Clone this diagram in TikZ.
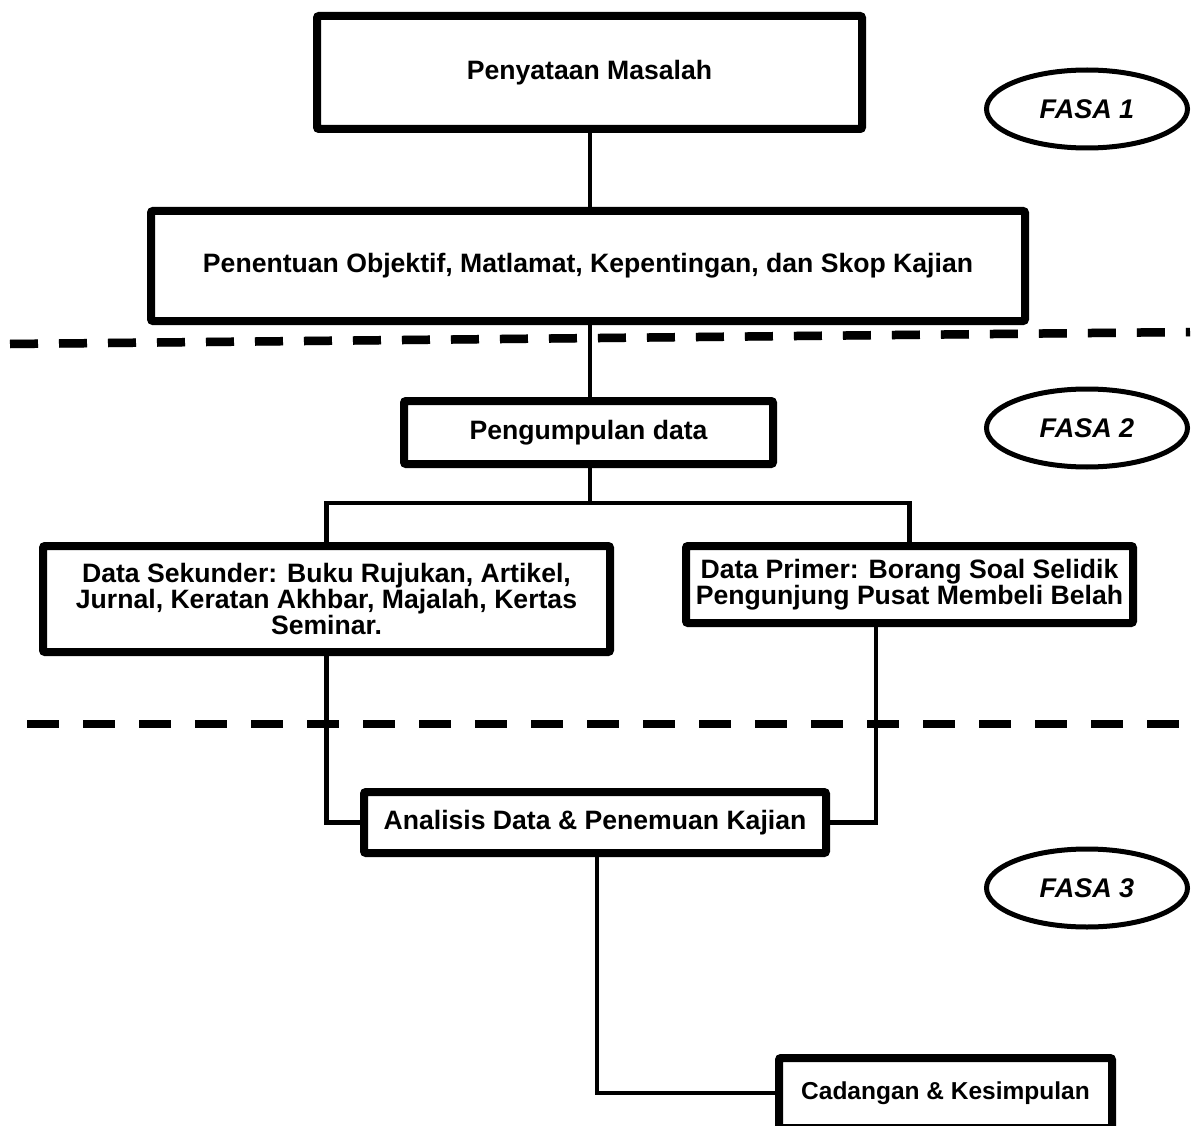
\documentclass[tikz,border=0pt]{standalone}
\usepackage{fontspec}
\setmainfont{Liberation Sans}
\usetikzlibrary{shadows,shapes.geometric,backgrounds}
\begin{document}
\begin{tikzpicture}[x=1pt,y=-1pt,
  box/.style={draw, line width=8pt, fill=white, rounded corners=2pt, align=center, inner sep=0pt,
    font=\bfseries\fontsize{26.6}{26}\selectfont,
    drop shadow={opacity=0.3, shadow xshift=2pt, shadow yshift=-3pt}},
  link/.style={line width=4.5pt},
  fasa/.style={draw, ellipse, line width=5pt, inner sep=0pt, minimum width=201pt, minimum height=78pt,
    font=\bfseries\itshape\fontsize{27}{28}\selectfont},
  sepline/.style={line width=8.5pt}]
\useasboundingbox (0,0) rectangle (1192,1126);
\clip (0,0) rectangle (1192,1126);

% boxes
\node[box, minimum width=545pt, minimum height=113pt] (b1) at (589.5,72.5) {Penyataan Masalah};
\node[box, minimum width=874pt, minimum height=110pt] (b2) at (588,266) {Penentuan Objektif, Matlamat, Kepentingan, dan Skop Kajian};
\node[box, minimum width=369pt, minimum height=63pt] (b3) at (588.5,432.5) {Pengumpulan data};
\node[box, minimum width=567pt, minimum height=106pt] (b4) at (326.5,599) {Data Sekunder: Buku Rujukan, Artikel,\\Jurnal, Keratan Akhbar, Majalah, Kertas\\Seminar.};
\node[box, minimum width=447pt, minimum height=77pt] (b5) at (909.5,584.5) {Data Primer: Borang Soal Selidik\\Pengunjung Pusat Membeli Belah};
\node[box, minimum width=462pt, minimum height=61pt] (b6) at (595,822.5) {Analisis Data \& Penemuan Kajian};
\node[box, minimum width=333pt, minimum height=70pt, font=\bfseries\fontsize{24.5}{26}\selectfont] (b7) at (945.5,1093) {Cadangan \& Kesimpulan};

% phase ellipses
\node[fasa] (f1) at (1087,109) {FASA 1};
\node[fasa] (f2) at (1087,428) {FASA 2};
\node[fasa] (f3) at (1087,888) {FASA 3};

\coordinate (split) at (590,503);
\begin{scope}[on background layer]
  \draw[link] (split |- b1.south) -- (split |- b2.north);
  \draw[link] (split |- b2.south) -- (split |- b3.north);
  \draw[link] (split |- b3.south) -- (split);
  \draw[link] (b4.north) |- (split) -| (b5.north);
  \draw[link] (b4.south) |- (b6.west);
  \draw[link] ([xshift=-33.5pt]b5.south) |- (b6.east);
  \draw[link] ([xshift=2pt]b6.south) |- (b7.west);
\end{scope}

% phase separators
\coordinate (s1a) at (10,344);
\coordinate (s1b) at (1190,332);
\coordinate (s2a) at (27,724);
\coordinate (s2b) at (1180,724);
\draw[sepline, black!30, dash pattern=on 28pt off 21pt, xshift=2pt, yshift=-3pt] (s1a) -- (s1b);
\draw[sepline, black!30, dash pattern=on 32pt off 24pt, xshift=2pt, yshift=-3pt] (s2a) -- (s2b);
\draw[sepline, dash pattern=on 28pt off 21pt] (s1a) -- (s1b);
\draw[sepline, dash pattern=on 32pt off 24pt] (s2a) -- (s2b);
\end{tikzpicture}
\end{document}
